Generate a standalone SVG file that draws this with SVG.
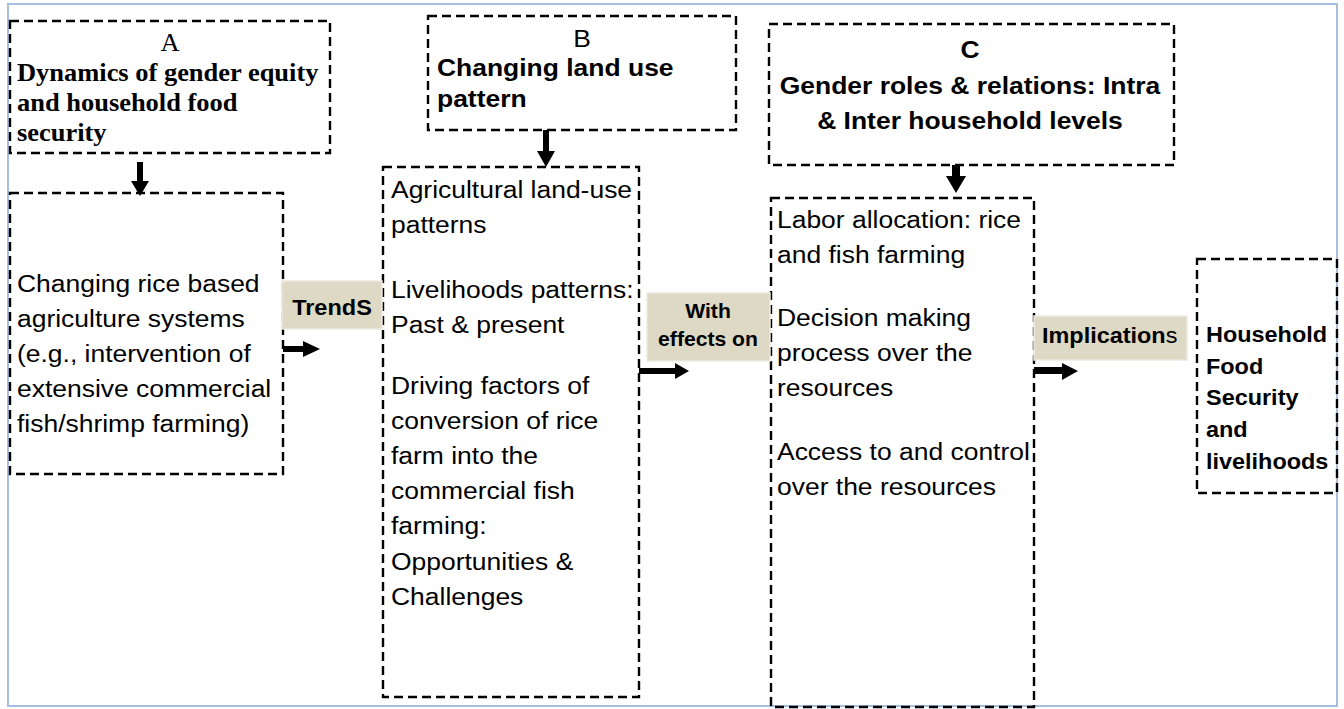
<svg xmlns="http://www.w3.org/2000/svg" width="1344" height="709" viewBox="0 0 1344 709">
  <style>
    .frame { fill: #ffffff; stroke: #a7bfdf; stroke-width: 2; }
    .box { fill: none; stroke: #000; stroke-width: 2.4; stroke-dasharray: 9 5; }
    .tag { fill: #ddd9c4; stroke: #ebe9df; stroke-width: 1.5; }
    .arrow { fill: #000; stroke: none; }
    .sans { font-family: "Liberation Sans", Arial, sans-serif; fill: #000; }
    .serif { font-family: "Liberation Serif", "Times New Roman", serif; fill: #000; }
    .body { font-size: 24.5px; }
    .b { font-weight: bold; }
  </style>

  <rect class="frame" x="8" y="4" width="1329" height="702"/>

  <!-- A: heading box -->
  <g id="node-a-head">
    <rect class="box" x="10" y="21" width="320" height="132"/>
    <g transform="translate(170 0) scale(1.08 1)">
      <text class="serif body" x="0" y="51" text-anchor="middle">A</text>
    </g>
    <g transform="translate(17 0) scale(1.08 1)">
      <text class="serif body b" x="0" y="81">Dynamics of gender equity</text>
      <text class="serif body b" x="0" y="111">and household food</text>
      <text class="serif body b" x="0" y="141">security</text>
    </g>
  </g>

  <!-- A: content box -->
  <g id="node-a-body">
    <rect class="box" x="10" y="193" width="273" height="281"/>
    <g transform="translate(17 0) scale(1.08 1)">
      <text class="sans body" x="0" y="292">Changing rice based</text>
      <text class="sans body" x="0" y="327">agriculture systems</text>
      <text class="sans body" x="0" y="362">(e.g., intervention of</text>
      <text class="sans body" x="0" y="397">extensive commercial</text>
      <text class="sans body" x="0" y="432">fish/shrimp farming)</text>
    </g>
  </g>

  <!-- B: heading box -->
  <g id="node-b-head">
    <rect class="box" x="428" y="16" width="308" height="114"/>
    <g transform="translate(582 0) scale(1.08 1)">
      <text class="sans body" x="0" y="47" text-anchor="middle">B</text>
    </g>
    <g transform="translate(437 0) scale(1.08 1)">
      <text class="sans body b" x="0" y="76">Changing land use</text>
      <text class="sans body b" x="0" y="107">pattern</text>
    </g>
  </g>

  <!-- B: content box -->
  <g id="node-b-body">
    <rect class="box" x="383" y="167" width="256" height="530"/>
    <g transform="translate(391 0) scale(1.08 1)">
      <text class="sans body" x="0" y="198">Agricultural land-use</text>
      <text class="sans body" x="0" y="233">patterns</text>
      <text class="sans body" x="0" y="298">Livelihoods patterns:</text>
      <text class="sans body" x="0" y="333">Past &amp; present</text>
      <text class="sans body" x="0" y="394">Driving factors of</text>
      <text class="sans body" x="0" y="429">conversion of rice</text>
      <text class="sans body" x="0" y="464">farm into the</text>
      <text class="sans body" x="0" y="499">commercial fish</text>
      <text class="sans body" x="0" y="534">farming:</text>
      <text class="sans body" x="0" y="570">Opportunities &amp;</text>
      <text class="sans body" x="0" y="605">Challenges</text>
    </g>
  </g>

  <!-- C: heading box -->
  <g id="node-c-head">
    <rect class="box" x="769" y="24" width="405" height="141"/>
    <g transform="translate(970 0) scale(1.08 1)">
      <text class="sans body b" x="0" y="58" text-anchor="middle">C</text>
      <text class="sans body b" x="0" y="94" text-anchor="middle">Gender roles &amp; relations: Intra</text>
      <text class="sans body b" x="0" y="129" text-anchor="middle">&amp; Inter household levels</text>
    </g>
  </g>

  <!-- C: content box -->
  <g id="node-c-body">
    <rect class="box" x="771" y="198" width="263" height="509"/>
    <g transform="translate(777 0) scale(1.08 1)">
      <text class="sans body" x="0" y="228">Labor allocation: rice</text>
      <text class="sans body" x="0" y="263">and fish farming</text>
      <text class="sans body" x="0" y="326">Decision making</text>
      <text class="sans body" x="0" y="361">process over the</text>
      <text class="sans body" x="0" y="396">resources</text>
      <text class="sans body" x="0" y="460">Access to and control</text>
      <text class="sans body" x="0" y="495">over the resources</text>
    </g>
  </g>

  <!-- Outcome box -->
  <g id="node-outcome">
    <rect class="box" x="1197" y="259" width="140" height="234"/>
    <g transform="translate(1206 0) scale(1.08 1)">
      <text class="sans b" font-size="21.7" x="0" y="342">Household</text>
      <text class="sans b" font-size="21.7" x="0" y="374">Food</text>
      <text class="sans b" font-size="21.7" x="0" y="405">Security</text>
      <text class="sans b" font-size="21.7" x="0" y="437">and</text>
      <text class="sans b" font-size="21.7" x="0" y="469">livelihoods</text>
    </g>
  </g>

  <!-- Connectors: block arrows between boxes -->
  <g id="connectors">
    <polygon class="arrow" points="137,162 143,162 143,181 149,181 140,196 131,181 137,181"/>
    <polygon class="arrow" points="543,130 549,130 549,151 555,151 546,167 537,151 543,151"/>
    <polygon class="arrow" points="952,165 960,165 960,176 966,176 956,193 946,176 952,176"/>
    <polygon class="arrow" points="283,346 303,346 303,341 320,349 303,357 303,352 283,352"/>
    <polygon class="arrow" points="639,368 675,368 675,363 689,371 675,379 675,374 639,374"/>
    <polygon class="arrow" points="1034,367 1062,367 1062,363 1078,371 1062,380 1062,374 1034,374"/>
  </g>

  <!-- Connector labels -->
  <g id="label-trends">
    <rect class="tag" x="282" y="281" width="100" height="48"/>
    <g transform="translate(332 0) scale(1.08 1)">
      <text class="sans b" font-size="21.8" x="0" y="315" text-anchor="middle">TrendS</text>
    </g>
  </g>
  <g id="label-effects">
    <rect class="tag" x="647" y="293" width="123" height="68"/>
    <g transform="translate(708 0) scale(1.08 1)">
      <text class="sans b" font-size="19.6" x="0" y="318" text-anchor="middle">With</text>
      <text class="sans b" font-size="19.6" x="0" y="346" text-anchor="middle">effects on</text>
    </g>
  </g>
  <g id="label-implications">
    <rect class="tag" x="1034" y="316" width="153" height="44"/>
    <g transform="translate(1042 0) scale(1.08 1)">
      <text class="sans" font-size="21.7" x="0" y="343"><tspan font-weight="bold">Implication</tspan>s</text>
    </g>
  </g>
</svg>
